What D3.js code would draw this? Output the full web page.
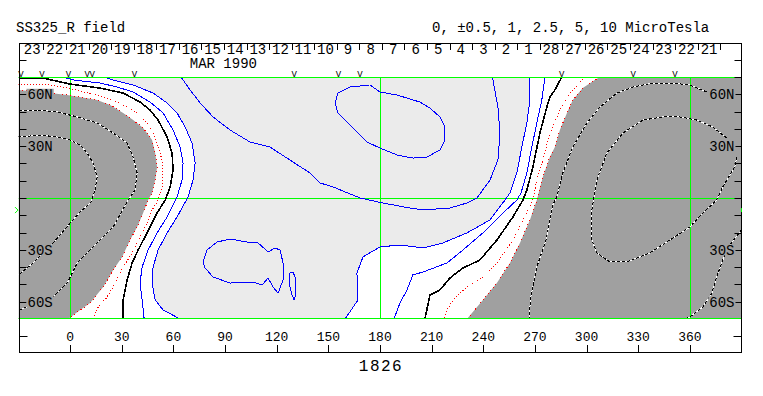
<!DOCTYPE html>
<html>
<head>
<meta charset="utf-8">
<script src="https://d3js.org/d3.v7.min.js"></script>
<style>
  body { margin: 0; background: #fff; }
  svg text { font-family: "Liberation Mono", "Courier New", monospace; fill: #000; }
</style>
</head>
<body>
<script>
// ---- chart values (longitude, latitude in degrees) ----
var dayLabels = ["23","22","21","20","19","18","17","16","15","14","13","12","11","10","9","8",
                 "7","6","5","4","3","2","1","28","27","26","25","24","23","22","21"];
var dayTickLons = [-28.6,-15.5,-2.4,10.7,23.8,36.9,50.0,63.1,76.2,89.3,102.5,115.6,128.7,141.8,
                   154.9,168.0,181.1,194.2,207.3,220.4,233.5,246.6,259.7,272.8,285.9,299.0,312.1,
                   325.2,338.3,351.4,364.6,377.7];
var monthLabel = "MAR 1990", monthLon = 89;
var markLons = [-28.6,-16.4,-1.0,9.9,12.8,37.3,130.2,155.8,168.4,285.5,327.1,351.3];
var lonTicks = [0,30,60,90,120,150,180,210,240,270,300,330,360];
var latTicks = [-60,-50,-40,-30,-20,-10,0,10,20,30,40,50,60];
var latLabels = [[60,"60N"],[30,"30N"],[-30,"30S"],[-60,"60S"]];
var gridLons = [0,180,360];
var b0 = -7;
var rotation = "1826";

// negative (-1) boundary, shaded dark
var grayEdgeLeft = [[-30,62.5],[-11.6,60.7],[-1.7,59.6],[15.7,56.7],[23.2,53.8],[30.8,49.2],[36.6,45.1],
  [42.4,40.5],[47.6,33.6],[49.4,26],[50.5,17.9],[49.4,10.4],[47.6,2.9],[45.3,-1.2],[42.4,-8.7],
  [38.9,-16.8],[34.8,-24.3],[30.2,-34.1],[25,-41.7],[19.2,-51.5],[11.6,-60.7],[5.8,-64.8],[-1.2,-70]];
var grayEdgeRight = [[307.7,70],[304.8,68.3],[297.8,63.6],[292,56.7],[288.6,49.2],[284.5,39.3],
  [281.6,29.5],[278.7,23.7],[274.6,12.1],[271.1,-1.2],[267.1,-12.7],[261.3,-26],[255.5,-37.6],
  [247.9,-49.2],[239.8,-59],[230.5,-70]];
// -0.5
var redLeft = [[-30,65.4],[-15.7,65.9],[-4.1,64.2],[5.8,61.9],[15.7,59.6],[25,56.7],[33.1,52.6],
  [38.9,49.2],[44.7,43.4],[48.2,37.6],[51.1,29.5],[53.4,22],[54,14.5],[53.4,6.4],[51.1,-1.2],
  [47.6,-6.9],[44.7,-14.5],[40.6,-22.6],[36,-31.8],[30.8,-39.9],[26.1,-49.2],[21.5,-57.3],
  [16.3,-63.1],[13.4,-70]];
var redRight = [[298.9,70],[297.3,68.3],[290.3,60.7],[284.5,50.9],[280.4,41.1],[278.7,37.6],
  [274.6,22],[271.1,10.4],[268.8,-1.2],[263,-12.7],[257.2,-24.3],[247.9,-37.6],[239.8,-45.7],
  [230.5,-51.5],[222.4,-59],[218.9,-64.8],[217.1,-70]];
// 0 (neutral line)
var blackLeft = [[-30,69.4],[-15.7,69.4],[0,65.9],[17.4,63.6],[30.8,60.7],[40.6,55.5],[46.4,50.9],
  [51.1,45.1],[56.3,35.3],[59.2,26],[59.8,16.2],[58.1,6.4],[55.2,-1.2],[50.5,-8.7],[44.7,-20.2],
  [39.5,-30.1],[36,-37.6],[33.1,-47.4],[30.8,-59],[30.8,-70]];
var blackRight = [[285.6,70],[281.6,62.5],[278.7,58.4],[276.9,52.6],[272.9,37.6],[268.8,17.9],
  [265.3,4.6],[263,-1.2],[257.2,-11],[247.9,-24.3],[238,-35.9],[228.2,-40.5],[220.6,-46.3],
  [214.8,-53.2],[209,-56.1],[206.1,-70]];
// +0.5
var blueHalfLeft = [[-4.1,70],[1.7,68.3],[17.4,66.5],[27.3,64.2],[36.6,61.3],[46.4,55.5],[54,49.2],
  [59.8,39.3],[63.9,29.5],[65.6,20.2],[65,10.4],[62.1,0.6],[56.3,-11],[50.5,-20.2],[45.3,-30.1],
  [41.8,-40],[40.6,-49.2],[41.8,-59],[43,-70]];
var blueHalfRight = [[275.8,70],[274,56.7],[271.1,43.4],[268.2,29.5],[265.3,14.5],[261.9,2.9],
  [259.5,-1.2],[251.4,-8.7],[239.8,-20.2],[228.2,-30.1],[218.9,-37.6],[205,-42.8],[199.1,-44.5],
  [195.7,-53.2],[191.6,-60.7],[188.1,-70]];
// +1, shaded light
var blueOneLeft = [[19.2,70],[25,68.3],[36.6,65.4],[48.2,60.7],[56.3,55],[62.1,49.2],[66.8,41.1],
  [70.8,31.8],[72.6,20.2],[71.4,10.4],[68.5,0.6],[62.1,-11],[56.3,-20.2],[51.1,-30.1],[48.2,-39.9],
  [47.6,-49.2],[49.4,-59],[54,-64.8],[63.9,-70]];
var blueOneRight = [[267.1,70],[267.1,56.7],[265.3,43.4],[262.4,29.5],[259.5,14.5],[255.5,2.9],
  [252.6,-1.2],[243.9,-12.7],[230.5,-20.2],[216.6,-26],[205,-28.9],[191.6,-27.2],[180,-28.3],
  [170.1,-34.1],[166.6,-43.4],[167.2,-59],[159.7,-70]];
// +2.5 and higher
var blueHigh = [
  [[64.4,70],[65.6,68.3],[69.7,62.5],[75.5,55],[83,46.9],[92.9,39.3],[104.5,32.4],[116.1,29.5],
   [129.5,20.8],[139.3,14.5],[145.2,8.7],[152.7,6.4],[168.4,0],[181.7,-2.9],[197.4,-5.8],[205,-6.9],
   [220.6,-5.8],[230.5,-2.9],[236.3,0],[243.9,10.4],[248.5,22],[249.7,37.6],[248.5,52.6],[245.6,68.3],[245,70]],
  [[174.2,65.4],[162.6,64.2],[155.6,60.7],[153.9,55],[155.6,49.2],[162.6,42.2],[172.4,32.4],[180,28.9],
   [189.9,24.9],[199.1,23.1],[207.3,23.7],[214.8,27.8],[217.7,33.6],[217.7,41.1],[214.8,46.9],[209,52.1],
   [203.2,55.5],[189.9,59.6],[180,61.3],[174.2,65.4]],
  [[77.2,-37],[79.5,-30.1],[85.3,-25.5],[92.9,-23.7],[102.8,-25.5],[104.5,-26],[109.2,-26],[115,-31.2],
   [119,-28.9],[121.9,-30.1],[123.7,-37.6],[123.7,-47.4],[120.8,-55],[117.9,-51.5],[115,-46.3],
   [111.5,-50.3],[106.2,-48.6],[92.9,-49.2],[83,-45.7],[78.4,-40.5],[77.2,-37]],
  [[127.7,-43.4],[129.5,-42.8],[131.2,-47.4],[131.2,-55],[130.1,-59],[128.9,-56.1],[127.2,-49.2],[127.7,-43.4]]
];
// -2.5 and -5 inside the dark areas
var dashedLines = [
  [[-30,50.9],[-19.2,50.9],[-7.5,49.8],[4.1,46.9],[15.7,43.4],[25,37.6],[33.1,31.8],[36.6,23.7],
   [38.9,14.5],[37.7,4.6],[33.7,-1.2],[25,-16.8],[15.7,-26],[4.1,-37.6],[-1.7,-49.2],[-9.9,-57.3],
   [-19.2,-60.7],[-30,-65]],
  [[-30,35.3],[-17.4,36.4],[-7.5,35.3],[0,33.6],[5.8,30.7],[9.9,26],[13.4,20.2],[15.7,12.1],
   [14.5,4.6],[12.2,-2.3],[5.8,-8.1],[0,-14.5],[-9.9,-26],[-21.5,-37.6],[-30,-44.5]],
  [[369.9,61.3],[360,65.4],[350.1,66.5],[338.5,66.5],[326.9,64.2],[317.6,60.7],[307.7,52.6],
   [300.2,43.4],[292,29.5],[286.2,14.5],[282.7,0.6],[280.4,-4],[278.7,-12.7],[276.4,-24.3],
   [271.1,-39.9],[267.6,-57.3],[266.5,-70]],
  [[390,-18.5],[383.2,-27.2],[379.1,-35.9],[375.6,-45.7],[372.8,-55],[367.5,-63.1],[360,-68.8],[356.5,-70]],
  [[381.4,34.7],[373.3,41.1],[364,45.1],[354.2,46.9],[344.3,46.9],[332.7,45.1],[321.1,37.6],
   [311.8,26],[306,10.4],[303.1,-6.9],[303.1,-12.7],[303.1,-24.3],[306,-31.8],[313.5,-37],
   [323.4,-37],[336.7,-31.8],[348.4,-24.3],[360,-16.8],[367.5,-8.7],[375.6,-1.2],[379.1,6.4],
   [386.1,17.9],[387.2,23.7]]
];

var DARK = "#a0a0a0", LIGHT = "#ebebeb", GREEN = "#00ff00", BLUE = "#0000ff", RED = "#ff0000";

var W = 763, H = 396;
var svg = d3.select("body").append("svg").attr("width", W).attr("height", H);

var x = d3.scaleLinear().domain([-30, 390]).range([18.5, 741.5]);
var y = d3.scaleLinear().domain([70, -70]).range([77, 319]);

var line = d3.line().x(function(d){ return x(d[0]); }).y(function(d){ return y(d[1]); });

// clip for the map area
svg.append("defs").append("clipPath").attr("id", "map")
  .append("rect").attr("x", x(-30)).attr("y", y(70)).attr("width", x(390) - x(-30)).attr("height", y(-70) - y(70));

var map = svg.append("g").attr("clip-path", "url(#map)");

// shaded areas
var lightPts = blueOneLeft.concat([[160, -70]]).concat(blueOneRight.slice().reverse());
map.append("path").attr("d", line(lightPts) + "Z").attr("fill", LIGHT);
map.append("path").attr("d", line(grayEdgeLeft) + "L" + x(-30) + "," + y(-70) + "Z").attr("fill", DARK);
map.append("path").attr("d", line(grayEdgeRight) + "L" + x(390) + "," + y(-70) + "L" + x(390) + "," + y(70) + "Z").attr("fill", DARK);

// green grid
gridLons.forEach(function(l){
  map.append("line").attr("x1", Math.round(x(l)) + 0.5).attr("x2", Math.round(x(l)) + 0.5)
    .attr("y1", y(70)).attr("y2", y(-70)).attr("stroke", GREEN);
});
map.append("line").attr("x1", x(-30)).attr("x2", x(390)).attr("y1", y(0) + 0.5).attr("y2", y(0) + 0.5).attr("stroke", GREEN);

// contours
function contour(pts, color, width, dash) {
  var p = map.append("path").attr("d", line(pts)).attr("fill", "none")
    .attr("stroke", color).attr("stroke-width", width).attr("shape-rendering", "crispEdges");
  if (dash) p.attr("stroke-dasharray", dash);
  return p;
}
dashedLines.forEach(function(d){
  contour(d, "#fff", 1);
  contour(d, "#000", 1, "3,2");
});
[grayEdgeLeft, grayEdgeRight].forEach(function(d){ contour(d, RED, 1, "1,3"); });
[redLeft, redRight].forEach(function(d){ contour(d, RED, 1, "1,2"); });
[blueHalfLeft, blueHalfRight, blueOneLeft, blueOneRight].concat(blueHigh).forEach(function(d){ contour(d, BLUE, 1); });
[blackLeft, blackRight].forEach(function(d){ contour(d, "#000", 1.6); });

// top and bottom map edges
[70, -70].forEach(function(l){
  svg.append("line").attr("x1", x(-30)).attr("x2", x(390)).attr("y1", y(l) + (l > 0 ? 0.5 : -0.5))
    .attr("y2", y(l) + (l > 0 ? 0.5 : -0.5)).attr("stroke", GREEN);
});

// frame
var L = 19.5, R = 741.5, T = 43.5, B = 352.5;
svg.append("rect").attr("x", L).attr("y", T).attr("width", R - L).attr("height", B - T)
  .attr("fill", "none").attr("stroke", "#000");

// date row
dayTickLons.slice(1).forEach(function(l){
  var xx = Math.round(x(l)) + 0.5;
  svg.append("line").attr("x1", xx).attr("x2", xx).attr("y1", 44).attr("y2", 50).attr("stroke", "#000");
});
dayLabels.forEach(function(t, i){
  svg.append("text").attr("x", x((dayTickLons[i] + dayTickLons[i + 1]) / 2)).attr("y", 54)
    .attr("text-anchor", "middle").attr("font-size", 14).text(t);
});
svg.append("text").attr("x", x(monthLon)).attr("y", 67.5).attr("text-anchor", "middle")
  .attr("font-size", 14).text(monthLabel);
markLons.forEach(function(l){
  svg.append("text").attr("x", x(l)).attr("y", 77).attr("text-anchor", "middle")
    .attr("font-size", 9).text("V");
});
[[L, L + 7, 60.5], [R - 7, R, 60.5], [R - 7, R, 77.5]].forEach(function(s){
  svg.append("line").attr("x1", s[0]).attr("x2", s[1]).attr("y1", s[2]).attr("y2", s[2]).attr("stroke", "#000");
});

// latitude ticks and labels
latTicks.forEach(function(l){
  var yy = Math.round(y(l)) + 0.5;
  svg.append("line").attr("x1", L).attr("x2", L + 7).attr("y1", yy).attr("y2", yy).attr("stroke", "#000");
  svg.append("line").attr("x1", R - 7).attr("x2", R).attr("y1", yy).attr("y2", yy).attr("stroke", "#000");
});
latLabels.forEach(function(d){
  [["start", L + 8], ["end", R - 7]].forEach(function(side){
    var g = svg.append("g");
    var t = g.append("text").attr("x", side[1]).attr("y", y(d[0]) + 5)
      .attr("text-anchor", side[0]).attr("font-size", 14).text(d[1]);
    var bb = t.node().getBBox();
    g.insert("rect", "text").attr("x", bb.x - 1).attr("y", y(d[0]) - 5.5)
      .attr("width", bb.width + 2).attr("height", 11).attr("fill", DARK);
  });
});

// Earth latitude marker
svg.append("path").attr("d", "M15," + (y(b0) - 3) + "L18," + y(b0) + "L15," + (y(b0) + 3))
  .attr("fill", "none").attr("stroke", GREEN);
svg.append("line").attr("x1", R).attr("x2", R).attr("y1", y(b0) - 2).attr("y2", y(b0) + 2).attr("stroke", GREEN);

// longitude axis
lonTicks.forEach(function(l){
  var xx = Math.round(x(l)) + 0.5;
  svg.append("line").attr("x1", xx).attr("x2", xx).attr("y1", 345).attr("y2", B).attr("stroke", "#000");
  svg.append("text").attr("x", x(l)).attr("y", 341).attr("text-anchor", "middle")
    .attr("font-size", 13).text(l);
});
[[L, L + 8], [R - 8, R]].forEach(function(s){
  svg.append("line").attr("x1", s[0]).attr("x2", s[1]).attr("y1", 336.5).attr("y2", 336.5).attr("stroke", "#000");
});
svg.append("text").attr("x", x(180) + 1).attr("y", 371).attr("text-anchor", "middle")
  .attr("font-size", 16).attr("letter-spacing", 1.5).text(rotation);

// titles
svg.append("text").attr("x", 16).attr("y", 32).attr("font-size", 14).text("SS325_R field");
svg.append("text").attr("x", 432).attr("y", 32).attr("font-size", 14)
  .text("0, \u00b10.5, 1, 2.5, 5, 10 MicroTesla");
</script>
</body>
</html>
